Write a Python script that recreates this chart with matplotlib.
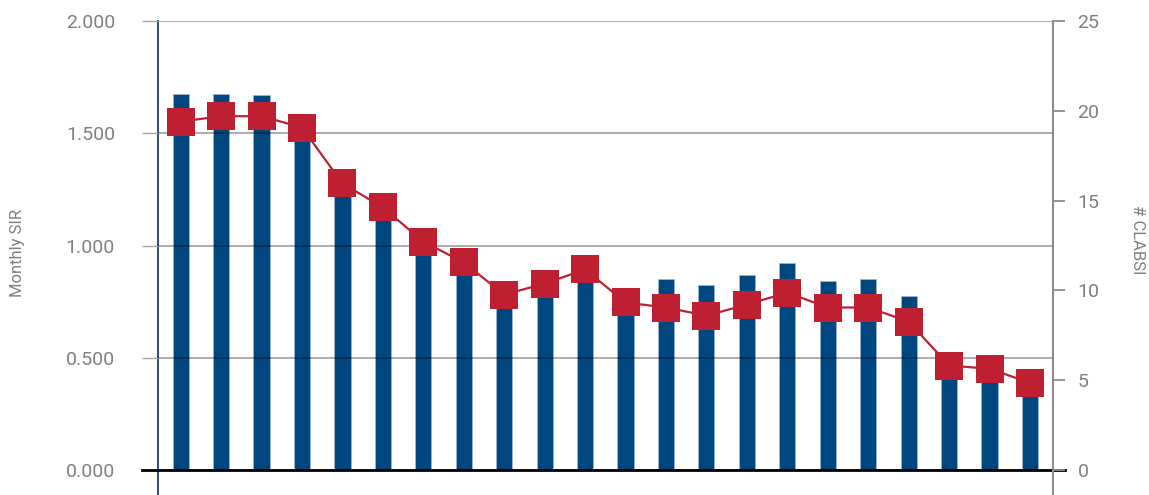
import matplotlib.pyplot as plt

plt.rcParams['font.family'] = ['Roboto', 'DejaVu Sans']

# one entry per month (no x labels shown in the chart)
months = list(range(1, 23))

# monthly SIR (bars, left axis)
sir = [1.673, 1.673, 1.670, 1.52, 1.28, 1.17, 1.00, 0.93, 0.77, 0.82, 0.88,
       0.74, 0.852, 0.824, 0.870, 0.923, 0.843, 0.853, 0.776, 0.46, 0.44, 0.39]

# number of CLABSI (line with square markers, right axis)
clabsi = [19.4, 19.7, 19.7, 19.07, 15.96, 14.62, 12.72, 11.56, 9.77, 10.38, 11.17,
          9.33, 9.05, 8.60, 9.21, 9.88, 9.05, 9.05, 8.27, 5.82, 5.64, 4.86]

left_ticks = [0, 0.5, 1.0, 1.5, 2.0]
right_ticks = [0, 5, 10, 15, 20, 25]

bar_color = '#00467f'
line_color = '#be2032'
grid_color = '#a6a6a6'
label_color = '#808080'

fig = plt.figure(figsize=(11.49, 4.95), dpi=100)
ax = fig.add_axes([158 / 1149, 0, 895 / 1149, 474 / 495])
ax2 = ax.twinx()

x = list(range(len(months)))
ax.bar(x, sir, width=0.4, color=bar_color, edgecolor='#9fbbd6', linewidth=0.5, zorder=1)
ax2.plot(x, clabsi, color=line_color, lw=1.6, marker='s', markersize=20.2,
         markerfacecolor=line_color, markeredgewidth=0)

ax.set_xlim(-0.56, 21.57)
ax.set_ylim(-0.111, 2.0)
ax2.set_ylim(-0.111 * 12.5, 25)

# gridlines drawn over the bars, semi transparent
ax.set_axisbelow(False)
ax.yaxis.grid(True, color='black', alpha=0.35, lw=1.3)
ax.set_xticks([])
ax.set_yticks(left_ticks)
ax.set_yticklabels([f'{v:.3f}' for v in left_ticks])
ax.tick_params(axis='y', length=11.5, width=1, color=grid_color, pad=19.5,
               labelsize=14, labelcolor=label_color)

ax2.set_yticks(right_ticks)
ax2.tick_params(axis='y', length=8.6, width=1.3, color='#8c8c8c', pad=9,
                labelsize=14, labelcolor=label_color)

for s in ['top', 'bottom', 'right']:
    ax.spines[s].set_visible(False)
for s in ['top', 'bottom', 'left']:
    ax2.spines[s].set_visible(False)
ax.spines['left'].set_color('#1f3a68')
ax.spines['left'].set_linewidth(1.3)
ax2.spines['right'].set_color('#8c8c8c')
ax2.spines['right'].set_linewidth(1.5)

# black zero line reaching across the tick marks
ax.plot([-0.018, 1.0134], [0, 0], color='black', lw=2, transform=ax.get_yaxis_transform(),
        clip_on=False, zorder=5)

ax.set_ylabel('Monthly SIR', fontsize=12, color=label_color, va='center')
ax.yaxis.set_label_coords(-0.1575, 0.51)
ax2.set_ylabel('# CLABSI', fontsize=12, color=label_color, rotation=-90, va='center')
ax2.yaxis.set_label_coords(1.094, 0.538)

fig.savefig('out.png', dpi=100)
